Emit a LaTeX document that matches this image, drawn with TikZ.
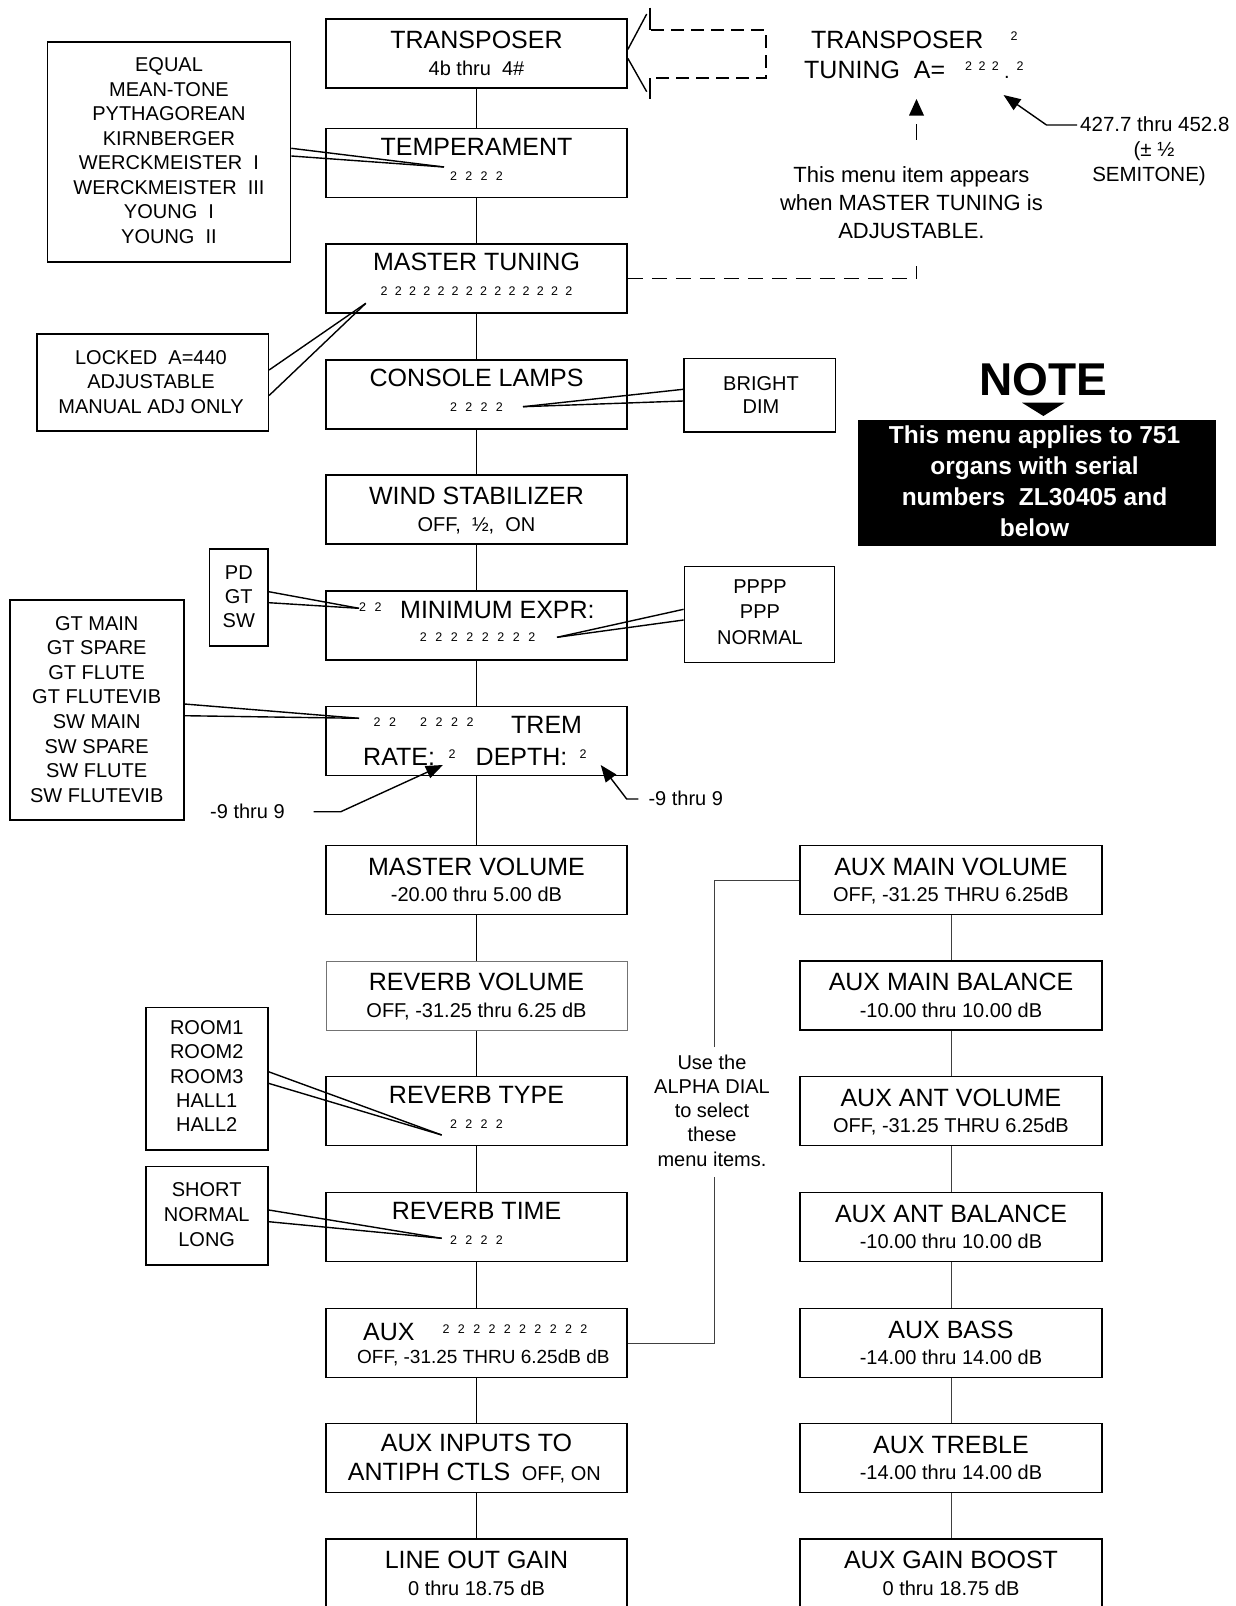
\documentclass[tikz,border=0pt]{standalone}
\usepackage{fontspec}
\setmainfont{Liberation Sans}
\usetikzlibrary{arrows.meta}
\newcommand\fsz[1]{\fontsize{#1}{#1}\selectfont}
\newcommand\twos[2]{\foreach \i in {1,...,#1}{\makebox[#2][c]{2}}}
\tikzset{
  box/.style={draw, line width=1.6pt, minimum width=301pt, minimum height=69pt, inner sep=0pt},
  rbox/.style={box, minimum width=302pt},
  ttl/.style={anchor=base, inner sep=0pt, font=\fsz{25}},
  sub/.style={anchor=base, inner sep=0pt, font=\fsz{20}},
  tw/.style={anchor=base, inner sep=0pt, font=\fsz{12.5}},
  opt/.style={draw, line width=1.6pt, inner sep=0pt},
  otxt/.style={anchor=base, inner sep=0pt, font=\fsz{20}},
  conn/.style={line width=1.3pt},
  conn2/.style={line width=1pt, draw=black!75},
  lead/.style={line width=1.4pt},
  dsh/.style={line width=1.3pt, dash pattern=on 13pt off 7pt},
  arr/.style={line width=1.4pt, -{Triangle[length=17pt,width=13pt]}},
}
\newcommand\tsbox[3]{%
  \node[ttl] at ([yshift=5pt]#1.center) {#2};
  \node[sub] at ([yshift=-21.5pt]#1.center) {#3};}
\newcommand\twbox[4]{%
  \node[ttl] at ([yshift=8pt]#1.center) {#2};
  \node[tw] at ([yshift=-17pt]#1.center) {\twos{#3}{#4}};}
\begin{document}
\begin{tikzpicture}[x=1pt,y=-1pt]
\path[use as bounding box, fill=white] (0,0) rectangle (1236,1606);

% ---------- centre column ----------
\node[box] (tr) at (476.5,53.5) {};
\node[box] (te) at (476.5,163) {};
\node[box] (mt) at (476.5,278.5) {};
\node[box] (cl) at (476.5,394.5) {};
\node[box] (ws) at (476.5,509.5) {};
\node[box] (me) at (476.5,625.5) {};
\node[box] (tm) at (476.5,741) {};
\node[box] (mv) at (476.5,880) {};
\node[box, draw=black!55, line width=1pt] (rv) at (476.5,995.5) {};
\node[box] (rt) at (476.5,1111) {};
\node[box] (ri) at (476.5,1227) {};
\node[box] (ax) at (476.5,1343) {};
\node[box] (ai) at (476.5,1458) {};
\node[box] (lo) at (476.5,1573.5) {};

\tsbox{tr}{TRANSPOSER}{4b thru\ \ 4\#}
\twbox{te}{TEMPERAMENT}{4}{15.3pt}
\twbox{mt}{MASTER TUNING}{14}{14.2pt}
\twbox{cl}{CONSOLE LAMPS}{4}{15.3pt}
\tsbox{ws}{WIND STABILIZER}{OFF,\ \ ½,\ \ ON}
% minimum expr
\node[tw] at (370.3,611.7) {\twos{2}{15.5pt}};
\node[ttl, anchor=base west] at (400,618.3) {MINIMUM EXPR:};
\node[tw] at (477.5,641.7) {\twos{8}{15.5pt}};
% trem
\node[tw] at (384.8,726.7) {\twos{2}{15.5pt}};
\node[tw] at (446.8,726.7) {\twos{4}{15.5pt}};
\node[ttl, anchor=base west] at (511,733.3) {TREM};
\node[ttl, anchor=base west] at (363,765) {RATE:};
\node[tw] at (452,758) {2};
\node[ttl, anchor=base west] at (475.5,765) {DEPTH:};
\node[tw] at (583,758) {2};

\tsbox{mv}{MASTER VOLUME}{-20.00 thru 5.00 dB}
\tsbox{rv}{REVERB VOLUME}{OFF, -31.25 thru 6.25 dB}
\twbox{rt}{REVERB TYPE}{4}{15.3pt}
\twbox{ri}{REVERB TIME}{4}{15.3pt}
% aux
\node[ttl, anchor=base west] at (363,1340) {AUX};
\node[tw] at (515,1333.3) {\twos{10}{15.3pt}};
\node[sub, font=\fsz{19}, anchor=base west] at (357,1363.3) {OFF, -31.25 THRU 6.25dB dB};
% aux inputs
\node[ttl] at (476.5,1451.7) {AUX INPUTS TO};
\node[ttl, anchor=base west] at (347.7,1480.7) {ANTIPH CTLS};
\node[sub, anchor=base west] at (521.7,1480.7) {OFF, ON};
\tsbox{lo}{LINE OUT GAIN}{0 thru 18.75 dB}

\foreach \a/\b in {tr/te,te/mt,mt/cl,cl/ws,ws/me,me/tm,tm/mv,mv/rv,rv/rt,rt/ri,ri/ax,ax/ai,ai/lo}
  \draw[conn] (\a.south) -- (\b.north);

% ---------- right column ----------
\node[rbox] (r1) at (951,880) {};
\node[rbox] (r2) at (951,995.5) {};
\node[rbox] (r3) at (951,1111) {};
\node[rbox] (r4) at (951,1227) {};
\node[rbox] (r5) at (951,1343) {};
\node[rbox] (r6) at (951,1458) {};
\node[rbox] (r7) at (951,1573.5) {};
\tsbox{r1}{AUX MAIN VOLUME}{OFF, -31.25 THRU 6.25dB}
\tsbox{r2}{AUX MAIN BALANCE}{-10.00 thru 10.00 dB}
\tsbox{r3}{AUX ANT VOLUME}{OFF, -31.25 THRU 6.25dB}
\tsbox{r4}{AUX ANT BALANCE}{-10.00 thru 10.00 dB}
\tsbox{r5}{AUX BASS}{-14.00 thru 14.00 dB}
\tsbox{r6}{AUX TREBLE}{-14.00 thru 14.00 dB}
\tsbox{r7}{AUX GAIN BOOST}{0 thru 18.75 dB}
\foreach \a/\b in {r1/r2,r2/r3,r3/r4,r4/r5,r5/r6,r6/r7}
  \draw[conn2] (\a.south) -- (\b.north);

% alpha dial link
\coordinate (g1) at (714,1177);
\coordinate (g2) at (714,1047);
\draw[conn2] (ax.east) -| (g1);
\draw[conn2] (g2) |- (r1.west);
\foreach \t [count=\k from 0] in {Use the, ALPHA DIAL, to select, these, menu items.}
  \node[otxt] at (712,{1069.3+24.2*\k}) {\t};

% ---------- option boxes ----------
% temperament
\node[opt, minimum width=243pt, minimum height=220pt] (op1) at (169,151.7) {};
\foreach \t [count=\k from 0] in {EQUAL, MEAN-TONE, PYTHAGOREAN, KIRNBERGER, WERCKMEISTER\ \ I, WERCKMEISTER\ \ III, YOUNG\ \ I, YOUNG\ \ II}
  \node[otxt] at (169,{71.7+24.5*\k}) {\t};
\coordinate (t1) at (444,167);
\draw[lead] ([yshift=3.4pt]op1.east) -- (t1);
\draw[lead] ([yshift=-4.3pt]op1.east) -- (t1);
% master tuning
\node[opt, minimum width=231.4pt, minimum height=97.2pt] (op2) at (152.6,382.4) {};
\foreach \t [count=\k from 0] in {LOCKED\ \ A=440, ADJUSTABLE, MANUAL ADJ ONLY}
  \node[otxt] at (151,{364.3+24.5*\k}) {\t};
\coordinate (t2) at (365.8,303.3);
\draw[lead] ([yshift=12.4pt]op2.east) -- (t2);
\draw[lead] ([yshift=-13.1pt]op2.east) -- (t2);
% console lamps
\node[opt, minimum width=151.5pt, minimum height=73.4pt] (op3) at (759.75,395) {};
\foreach \t [count=\k from 0] in {BRIGHT, DIM}
  \node[otxt] at (761,{390+23.3*\k}) {\t};
\coordinate (t3) at (523,406.7);
\draw[lead] ([yshift=5.7pt]op3.west) -- (t3);
\draw[lead] ([yshift=-6pt]op3.west) -- (t3);
% min expr left
\node[opt, minimum width=58.6pt, minimum height=97pt] (op4) at (238.7,597.5) {};
\foreach \t [count=\k from 0] in {PD, GT, SW}
  \node[otxt] at (238.8,{579.3+24*\k}) {\t};
\coordinate (t4) at (359,608.3);
\draw[lead] ([yshift=5.8pt]op4.east) -- (t4);
\draw[lead] ([yshift=-5.2pt]op4.east) -- (t4);
% min expr right
\node[opt, minimum width=150.2pt, minimum height=96pt] (op5) at (759.5,614.5) {};
\foreach \t [count=\k from 0] in {PPPP, PPP, NORMAL}
  \node[otxt] at (760,{593.3+25.5*\k}) {\t};
\coordinate (t5) at (557,637.3);
\draw[lead] ([yshift=5.2pt]op5.west) -- (t5);
\draw[lead] ([yshift=-5.5pt]op5.west) -- (t5);
% trem voices
\node[opt, minimum width=173.5pt, minimum height=220pt] (op6) at (97,710) {};
\foreach \t [count=\k from 0] in {GT MAIN, GT SPARE, GT FLUTE, GT FLUTEVIB, SW MAIN, SW SPARE, SW FLUTE, SW FLUTEVIB}
  \node[otxt] at (96.7,{630+24.6*\k}) {\t};
\coordinate (t6) at (359,718.3);
\draw[lead] ([yshift=6pt]op6.east) -- (t6);
\draw[lead] ([yshift=-5.7pt]op6.east) -- (t6);
% reverb type
\node[opt, minimum width=121.7pt, minimum height=142.4pt] (op7) at (206.85,1078.8) {};
\foreach \t [count=\k from 0] in {ROOM1, ROOM2, ROOM3, HALL1, HALL2}
  \node[otxt] at (206.7,{1034.3+24.35*\k}) {\t};
\coordinate (t7) at (441.7,1135);
\draw[lead] ([yshift=7.1pt]op7.east) -- (t7);
\draw[lead] ([yshift=-4.5pt]op7.east) -- (t7);
% reverb time
\node[opt, minimum width=122pt, minimum height=98.3pt] (op8) at (207,1215.8) {};
\foreach \t [count=\k from 0] in {SHORT, NORMAL, LONG}
  \node[otxt] at (206.7,{1196+25*\k}) {\t};
\coordinate (t8) at (441.7,1238.3);
\draw[lead] ([yshift=5.8pt]op8.east) -- (t8);
\draw[lead] ([yshift=-5.9pt]op8.east) -- (t8);

% ---------- -9 thru 9 arrows ----------
\node[otxt, anchor=base west] (n9a) at (210,818.3) {-9 thru 9};
\coordinate (ra1) at (313.5,811.7);
\coordinate (ra2) at (340.8,811.7);
\coordinate (ra3) at (442.9,765);
\draw[arr] (ra1) -- (ra2) -- (ra3);
\node[otxt, anchor=base west] (n9b) at (648.3,805) {-9 thru 9};
\coordinate (da1) at (638.3,799);
\coordinate (da2) at (626.7,799);
\coordinate (da3) at (600.7,765);
\draw[arr] (da1) -- (da2) -- (da3);

% ---------- transposer tuning callout ----------
\draw[lead] ([yshift=4pt]tr.east) -- (646.7,14);
\draw[lead] ([yshift=-4.8pt]tr.east) -- (646.7,91.7);
\draw[lead] (650,7.5) -- (650,30);
\draw[lead] (650,78) -- (650,99);
\draw[dsh] (651,30) -- (766,30) -- (766,78) -- (651,78);

\node[ttl, anchor=base west] at (811,48) {TRANSPOSER};
\node[tw] at (1014,40.3) {2};
\node[ttl, anchor=base west] at (804,78.5) {TUNING\ \ A=};
\node[tw] at (982,70) {\twos{3}{13.4pt}};
\node[sub, anchor=base] at (1007,78.5) {.};
\node[tw] at (1020,70) {2};

\fill (916.5,99) -- (924,115.5) -- (909,115.5) -- cycle;
\draw[lead] (916.5,124) -- (916.5,140);
\foreach \t [count=\k from 0] in {This menu item appears, when MASTER TUNING is, ADJUSTABLE.}
  \node[anchor=base, inner sep=0pt, font=\fsz{22}] at (911.4,{182.9+27.7*\k}) {\t};

\node[sub, anchor=base west, font=\fsz{20.5}] (rng) at (1080,131.5) {427.7 thru 452.8};
\node[sub, font=\fsz{20.5}] at (1154,156.8) {(± ½};
\node[sub, font=\fsz{20.5}] at (1149,181.3) {SEMITONE)};
\coordinate (ta1) at (1077,125);
\coordinate (ta2) at (1046.5,125);
\coordinate (ta3) at (1003.5,95);
\draw[arr] (ta1) -- (ta2) -- (ta3);

% master tuning dashed link
\coordinate (mtd) at (916.5,278.5);
\draw[line width=1.3pt, dash pattern=on 15pt off 9pt] (mt.east) -- (mtd);
\draw[lead] (mtd) -- (916.5,266);

% ---------- NOTE ----------
\node[anchor=base, inner sep=0pt, font=\bfseries\fsz{46}] at (1043.5,395.5) {NOTE};
\fill (1022,402.7) -- (1064.5,402.7) -- (1043.4,416) -- cycle;
\node[fill=black, minimum width=357.4pt, minimum height=125.7pt, inner sep=0pt] (nb) at (1037.1,482.85) {};
\foreach \t [count=\k from 0] in {This menu applies to 751, organs with serial, numbers\ \ ZL30405 and, below}
  \node[anchor=base, inner sep=0pt, text=white, font=\bfseries\fsz{24.5}] at (1034.5,{443.8+30.8*\k}) {\t};
\end{tikzpicture}
\end{document}
